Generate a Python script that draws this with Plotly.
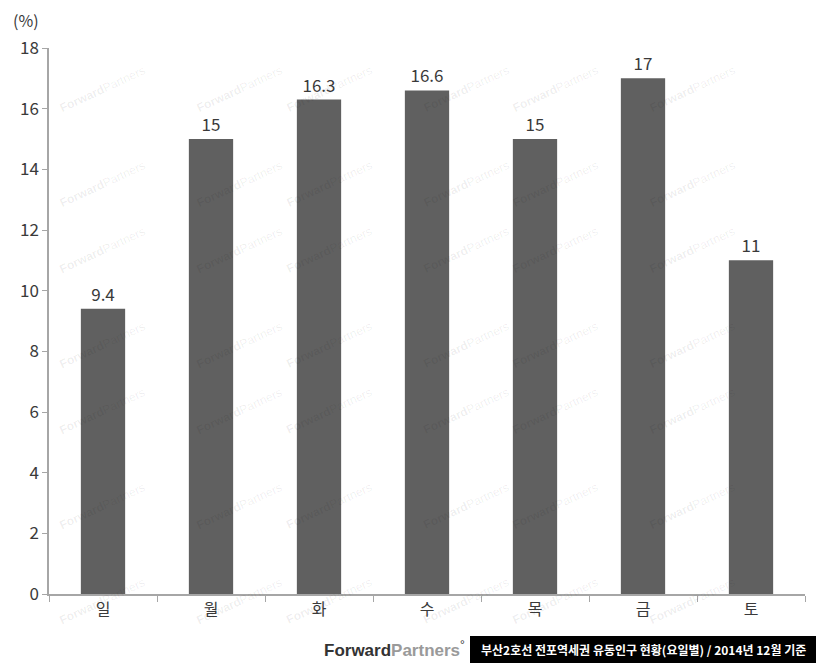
import plotly.graph_objects as go

days = ["일", "월", "화", "수", "목", "금", "토"]
shares = [9.4, 15, 16.3, 16.6, 15, 17, 11]
value_labels = ["9.4", "15", "16.3", "16.6", "15", "17", "11"]
y_ticks = [0, 2, 4, 6, 8, 10, 12, 14, 16, 18]

FONT = "Noto Sans CJK KR, Noto Sans, sans-serif"
W, H = 816, 663
L, R, T, B = 49, 11, 48, 69

fig = go.Figure()
fig.add_trace(go.Bar(
    x=days, y=shares, width=0.41,
    marker=dict(color="#606060", line=dict(width=0)),
    text=value_labels, textposition="outside",
    textfont=dict(size=17, color="#3a3a3a", family=FONT),
    cliponaxis=False,
))

def px2paper(x, y):
    return (x - L) / (W - L - R), (H - B - y) / (H - T - B)

annotations = []
# faint watermark
for row in range(7):
    for col in range(6):
        cx = 55 + col * 137
        cy = 60 + row * 95
        px, py = px2paper(cx, cy)
        annotations.append(dict(
            x=px, y=py, xref="paper", yref="paper", showarrow=False,
            text="<b>Forward</b>Partners", textangle=-25,
            font=dict(size=12, color="rgba(0,0,0,0.07)", family="Arial"),
        ))

px, py = px2paper(26, 20)
annotations.append(dict(x=px, y=py, xref="paper", yref="paper", showarrow=False,
                        text="(%)", font=dict(size=16, color="#3a3a3a", family=FONT),
                        xanchor="center", yanchor="middle"))

px, py = px2paper(394, 649)
annotations.append(dict(x=px, y=py, xref="paper", yref="paper", showarrow=False,
                        text="<b>Forward</b><span style='color:#9a9a9a'><b>Partners</b></span><sup>°</sup>",
                        font=dict(size=17, color="#333333", family="Arial"),
                        xanchor="center", yanchor="middle"))

px, py = px2paper(643, 649)
annotations.append(dict(x=px, y=py, xref="paper", yref="paper", showarrow=False,
                        text="<b>부산2호선 전포역세권 유동인구 현황(요일별) / 2014년 12월 기준</b>",
                        font=dict(size=12, color="#ffffff", family=FONT),
                        xanchor="center", yanchor="middle"))

x0, y0 = px2paper(470, 636)
x1, y1 = px2paper(816, 663)
shapes = [dict(type="rect", xref="paper", yref="paper", x0=x0, x1=x1, y0=y1, y1=y0,
               fillcolor="black", line=dict(width=0), layer="above")]

fig.update_layout(
    width=W, height=H,
    margin=dict(l=L, r=R, t=T, b=B, autoexpand=False),
    paper_bgcolor="white", plot_bgcolor="white",
    showlegend=False,
    font=dict(family=FONT, color="#3a3a3a"),
    annotations=annotations,
    shapes=shapes,
    xaxis=dict(
        showline=True, linecolor="#a6a6a6", linewidth=1.5,
        ticks="outside", tickson="boundaries", ticklen=6, tickcolor="#a6a6a6",
        tickfont=dict(size=16, color="#3a3a3a", family=FONT),
        showgrid=False, fixedrange=True,
    ),
    yaxis=dict(
        range=[0, 18], tickvals=y_ticks,
        showline=True, linecolor="#a6a6a6", linewidth=1.5,
        ticks="outside", ticklen=5, tickcolor="#a6a6a6",
        tickfont=dict(size=17, color="#3a3a3a", family=FONT),
        showgrid=False, zeroline=False, fixedrange=True,
    ),
)

fig.write_html("out.html", config={"displayModeBar": False},
               post_script="document.body.style.margin='0px';document.body.style.overflow='hidden';")
